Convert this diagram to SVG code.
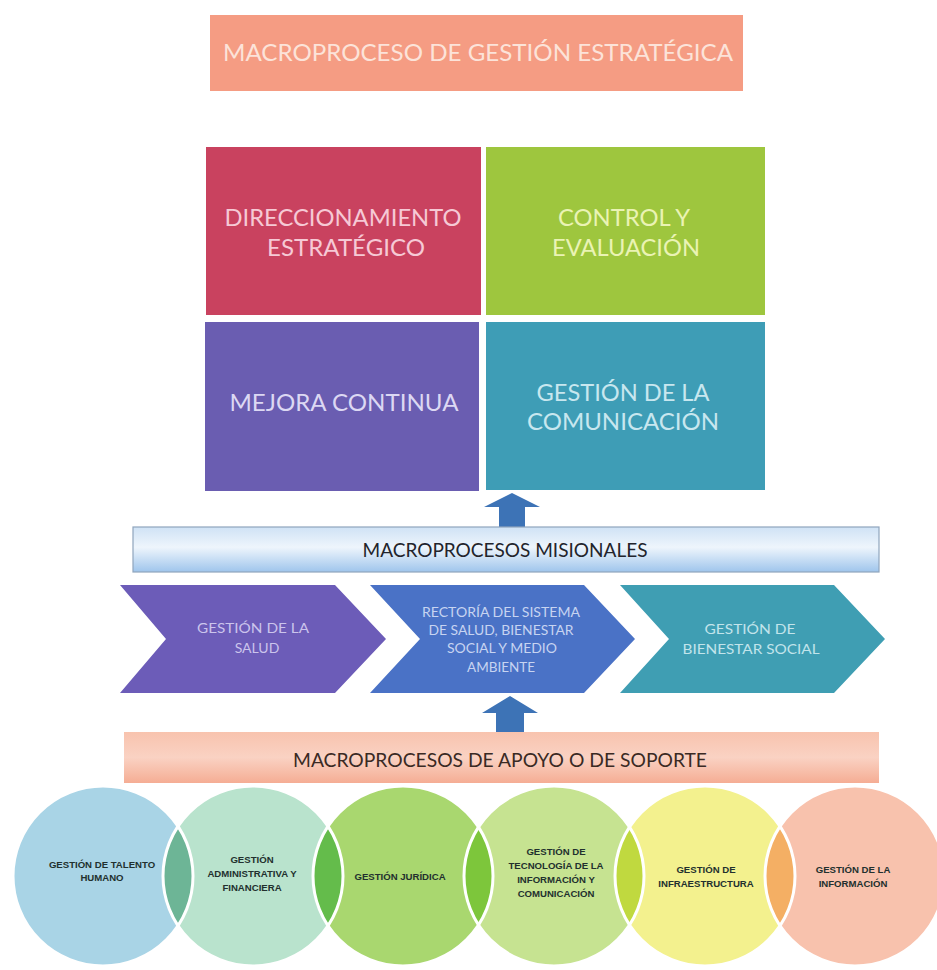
<svg xmlns="http://www.w3.org/2000/svg" width="937" height="970" viewBox="0 0 937 970">
<defs>
<style>
.t{font-family:Lato,"Open Sans","Liberation Sans",sans-serif;text-anchor:middle}
.big{font-size:24px}
.chev{font-size:14px}
.bar{font-size:19px;fill:#22242c}
.ct{font-family:"Liberation Sans",Arial,sans-serif;font-weight:bold;font-size:9.6px;text-anchor:middle;fill:#22302e}
.ring{fill:none;stroke:#ffffff;stroke-width:3}
.arrow{fill:#3D73B6}
</style>
<linearGradient id="gMis" x1="0" y1="0" x2="0" y2="1">
<stop offset="0" stop-color="#cfe2f5"/>
<stop offset="0.45" stop-color="#eef5fc"/>
<stop offset="1" stop-color="#9fc5ec"/>
</linearGradient>
<linearGradient id="gSup" x1="0" y1="0" x2="0" y2="1">
<stop offset="0" stop-color="#f8c3ae"/>
<stop offset="0.5" stop-color="#fad2c3"/>
<stop offset="1" stop-color="#f5ad94"/>
</linearGradient>
<clipPath id="k1"><circle cx="103" cy="876" r="90"/></clipPath>
<clipPath id="k2"><circle cx="253" cy="876" r="90"/></clipPath>
<clipPath id="k3"><circle cx="403" cy="876" r="90"/></clipPath>
<clipPath id="k4"><circle cx="554" cy="876" r="90"/></clipPath>
<clipPath id="k5"><circle cx="705" cy="876" r="90"/></clipPath>
</defs>
<rect width="937" height="970" fill="#ffffff"/>

<g id="banner">
<rect x="210" y="15" width="533" height="76" fill="#F59C83"/>
<text class="t" x="478" y="61" font-size="23" fill="#FCE3D9" textLength="510" lengthAdjust="spacingAndGlyphs">MACROPROCESO DE GESTIÓN ESTRATÉGICA</text>
</g>

<g id="direccionamiento">
<rect x="206" y="147" width="275" height="168" fill="#C9425F"/>
<text class="t big" x="343" y="226" fill="#F6C9D5" textLength="237" lengthAdjust="spacingAndGlyphs">DIRECCIONAMIENTO</text>
<text class="t big" x="346" y="256" fill="#F6C9D5" textLength="158" lengthAdjust="spacingAndGlyphs">ESTRATÉGICO</text>
</g>
<g id="control">
<rect x="486" y="147" width="279" height="168" fill="#9EC63E"/>
<text class="t big" x="624" y="226" fill="#EAF3B4" textLength="132" lengthAdjust="spacingAndGlyphs">CONTROL Y</text>
<text class="t big" x="626" y="256" fill="#EAF3B4" textLength="148" lengthAdjust="spacingAndGlyphs">EVALUACIÓN</text>
</g>
<g id="mejora">
<rect x="205" y="322" width="274" height="169" fill="#6A5DB1"/>
<text class="t big" x="344" y="411" fill="#DCD8F3" textLength="229" lengthAdjust="spacingAndGlyphs">MEJORA CONTINUA</text>
</g>
<g id="comunicacion">
<rect x="486" y="322" width="279" height="168" fill="#3E9DB6"/>
<text class="t big" x="623" y="401" fill="#C8E7EF" textLength="173" lengthAdjust="spacingAndGlyphs">GESTIÓN DE LA</text>
<text class="t big" x="623" y="430" fill="#C8E7EF" textLength="192" lengthAdjust="spacingAndGlyphs">COMUNICACIÓN</text>
</g>

<g id="connectors">
<path class="arrow" d="M512,493 L540,507 L525,507 L525,528 L499,528 L499,507 L484,507 Z"/>
<path class="arrow" d="M510,696 L538,713 L524,713 L524,733 L496,733 L496,713 L482,713 Z"/>
</g>

<g id="misionales">
<rect x="133" y="527" width="746" height="45" fill="url(#gMis)" stroke="#8FA5BD" stroke-width="1.2"/>
<text class="t bar" x="505" y="557" textLength="285" lengthAdjust="spacingAndGlyphs">MACROPROCESOS MISIONALES</text>
</g>

<g id="salud">
<polygon points="120,585 335,585 386,639 335,693 120,693 166,639" fill="#6C5CB8"/>
<text class="t chev" x="253" y="633" fill="#CBC4EC" textLength="112" lengthAdjust="spacingAndGlyphs">GESTIÓN DE LA</text>
<text class="t chev" x="257" y="653" fill="#CBC4EC">SALUD</text>
</g>
<g id="rectoria">
<polygon points="370,585 584,585 635,639 584,693 370,693 420,639" fill="#4A72C6"/>
<text class="t chev" x="501" y="617" fill="#C7D4F1" textLength="158" lengthAdjust="spacingAndGlyphs">RECTORÍA DEL SISTEMA</text>
<text class="t chev" x="501" y="635" fill="#C7D4F1" textLength="145" lengthAdjust="spacingAndGlyphs">DE SALUD, BIENESTAR</text>
<text class="t chev" x="502" y="653" fill="#C7D4F1" textLength="110" lengthAdjust="spacingAndGlyphs">SOCIAL Y MEDIO</text>
<text class="t chev" x="501" y="672" fill="#C7D4F1" textLength="68" lengthAdjust="spacingAndGlyphs">AMBIENTE</text>
</g>
<g id="bienestar">
<polygon points="620,585 834,585 885,639 834,693 620,693 669,639" fill="#3F9EB3"/>
<text class="t chev" x="750" y="634" fill="#C2E4EB" textLength="91" lengthAdjust="spacingAndGlyphs">GESTIÓN DE</text>
<text class="t chev" x="751" y="654" fill="#C2E4EB" textLength="137" lengthAdjust="spacingAndGlyphs">BIENESTAR SOCIAL</text>
</g>

<g id="soporte">
<rect x="124" y="732" width="755" height="51" fill="url(#gSup)"/>
<text class="t" x="500" y="767" font-size="20" fill="#3A2A24" textLength="414" lengthAdjust="spacingAndGlyphs">MACROPROCESOS DE APOYO O DE SOPORTE</text>
</g>

<g id="circulos">
<circle cx="103" cy="876" r="90" fill="#A9D4E6"/>
<circle cx="253" cy="876" r="90" fill="#B9E3CD"/>
<circle cx="403" cy="876" r="90" fill="#A9D76F"/>
<circle cx="554" cy="876" r="90" fill="#C6E391"/>
<circle cx="705" cy="876" r="90" fill="#F3F18E"/>
<circle cx="855" cy="876" r="90" fill="#F8C2AD"/>
<circle cx="253" cy="876" r="90" fill="#6DB596" clip-path="url(#k1)"/>
<circle cx="403" cy="876" r="90" fill="#64BC4B" clip-path="url(#k2)"/>
<circle cx="554" cy="876" r="90" fill="#7DC63B" clip-path="url(#k3)"/>
<circle cx="705" cy="876" r="90" fill="#C0D93F" clip-path="url(#k4)"/>
<circle cx="855" cy="876" r="90" fill="#F4AF64" clip-path="url(#k5)"/>
<circle class="ring" cx="103" cy="876" r="90"/>
<circle class="ring" cx="253" cy="876" r="90"/>
<circle class="ring" cx="403" cy="876" r="90"/>
<circle class="ring" cx="554" cy="876" r="90"/>
<circle class="ring" cx="705" cy="876" r="90"/>
<circle class="ring" cx="855" cy="876" r="90"/>
</g>

<g id="talento">
<text class="ct" x="102" y="868">GESTIÓN DE TALENTO</text>
<text class="ct" x="102" y="881">HUMANO</text>
</g>
<g id="administrativa">
<text class="ct" x="252" y="863">GESTIÓN</text>
<text class="ct" x="252" y="877">ADMINISTRATIVA Y</text>
<text class="ct" x="252" y="891">FINANCIERA</text>
</g>
<g id="juridica">
<text class="ct" x="400" y="880">GESTIÓN JURÍDICA</text>
</g>
<g id="tecnologia">
<text class="ct" x="556" y="855">GESTIÓN DE</text>
<text class="ct" x="556" y="869">TECNOLOGÍA DE LA</text>
<text class="ct" x="556" y="883">INFORMACIÓN Y</text>
<text class="ct" x="556" y="897">COMUNICACIÓN</text>
</g>
<g id="infraestructura">
<text class="ct" x="706" y="873">GESTIÓN DE</text>
<text class="ct" x="706" y="887">INFRAESTRUCTURA</text>
</g>
<g id="informacion">
<text class="ct" x="853" y="873">GESTIÓN DE LA</text>
<text class="ct" x="853" y="887">INFORMACIÓN</text>
</g>
</svg>
